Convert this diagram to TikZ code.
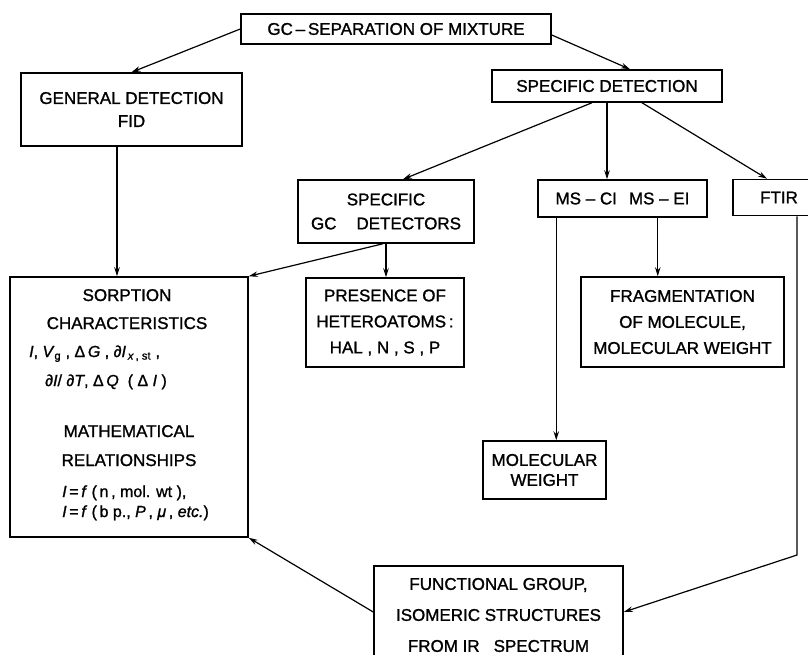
\documentclass[tikz,border=0pt]{standalone}
\usepackage{fontspec}
\setmainfont{Liberation Sans}[FakeBold=1.2]
\usetikzlibrary{arrows.meta}
\tikzset{
  box/.style={draw, line width=1.5pt, inner sep=0pt, align=center},
  conn/.style={line width=1.2pt, -{Stealth[length=9pt,width=5.5pt]}},
  txt/.style={inner sep=0pt, font=\fontsize{17}{20}\selectfont},
  mtxt/.style={inner sep=0pt, font=\fontsize{16}{20}\selectfont},
}
\begin{document}
\begin{tikzpicture}[x=1pt,y=-1pt]
\useasboundingbox (0,0) rectangle (808,654);
\clip (0,0) rectangle (808,654);
\fill[white] (0,0) rectangle (808,654);

% boxes
\node[box, minimum width=310pt, minimum height=30pt, font=\fontsize{17}{23}\selectfont] (gc) at (396,29) {GC\,–\,SEPARATION OF MIXTURE};
\node[box, minimum width=221pt, minimum height=73pt, font=\fontsize{17}{23}\selectfont] (gen) at (131.5,109.5) {GENERAL DETECTION\\FID};
\node[box, minimum width=230pt, minimum height=32pt, font=\fontsize{17}{23}\selectfont] (spec) at (607,86) {SPECIFIC DETECTION};
\node[box, minimum width=176pt, minimum height=63pt, font=\fontsize{17}{24}\selectfont] (sgc) at (386,211.5) {SPECIFIC\\GC\hspace{20pt}DETECTORS};
\node[box, minimum width=169pt, minimum height=37pt, font=\fontsize{17}{23}\selectfont] (ms) at (622.5,198.5) {MS – CI\hspace{12pt}MS – EI};
\node[box, minimum width=92pt, minimum height=36pt, font=\fontsize{17}{23}\selectfont] (ftir) at (779,197.5) {FTIR};
\node[box, minimum width=238pt, minimum height=260pt] (sorp) at (129,407) {};
\node[box, minimum width=158pt, minimum height=89pt, font=\fontsize{17}{26}\selectfont] (pres) at (385,322.5) {PRESENCE OF\\HETEROATOMS\,:\\HAL , N , S , P};
\node[box, minimum width=203pt, minimum height=90pt, font=\fontsize{17}{26}\selectfont] (frag) at (682.5,322) {FRAGMENTATION\\OF MOLECULE,\\MOLECULAR WEIGHT};
\node[box, minimum width=123pt, minimum height=58pt, font=\fontsize{17}{20}\selectfont] (mw) at (544.5,470) {MOLECULAR\\WEIGHT};
\node[box, minimum width=249pt, minimum height=98pt, font=\fontsize{17}{31}\selectfont] (func) at (498.5,615) {FUNCTIONAL GROUP,\\ISOMERIC STRUCTURES\\FROM IR\hspace{14pt}SPECTRUM};

% texts inside the sorption box
\node[txt, anchor=base] (s1) at (127,301) {SORPTION};
\node[txt, anchor=base] (s2) at (127,329) {CHARACTERISTICS};
\node[mtxt, anchor=base west] (s3) at (29,357) {\textit{I}, \textit{V}\textsubscript{g} , Δ\,\textit{G} , ∂\textit{I}\textsubscript{\,\textit{x}\,, st} ,};
\node[mtxt, anchor=base west] (s4) at (45,386) {∂\textit{I}/\ ∂\textit{T},\ Δ\,\textit{Q}\ \ (\ Δ\ \textit{I}\ )};
\node[txt, anchor=base] (s5) at (129,437) {MATHEMATICAL};
\node[txt, anchor=base] (s6) at (129,466) {RELATIONSHIPS};
\node[mtxt, anchor=base west] (s7) at (62,497) {\textit{I}\,=\,\textit{f}\ (\,n\,, mol. wt\ ),};
\node[mtxt, anchor=base west] (s8) at (62,517) {\textit{I}\,=\,\textit{f}\ (\,b p., \textit{P}\,, \textit{μ}\,, \textit{etc.})};

% connectors
\draw[conn] (gc.west) -- (gen.north);
\draw[conn] ([yshift=-6pt]gc.east) -- ([xshift=23pt]spec.north);
\draw[conn] ([xshift=-15pt]spec.south) -- ([xshift=17pt]sgc.north);
\draw[conn] (spec.south) -- (spec.south |- ms.north);
\draw[conn] ([xshift=35pt]spec.south) -- ([xshift=-12pt]ftir.north);
\draw[conn] ([xshift=-14.5pt]gen.south) -- ([xshift=-14.5pt]gen.south |- sorp.north);
\draw[conn] ([xshift=-3pt]sgc.south) -- (sorp.north east);
\draw[conn] (sgc.south) -- (sgc.south |- pres.north);
\draw[conn] ([xshift=19pt]ms.south west) -- ([xshift=19pt]ms.south west |- mw.north);
\draw[conn] ([xshift=-50pt]ms.south east) -- ([xshift=-50pt]ms.south east |- frag.north);
\coordinate (bend) at (797,555);
\draw[conn] ([xshift=18pt]ftir.south) -- (bend) -- ([yshift=3pt]func.east);
\draw[conn] ([yshift=3pt]func.west) -- (sorp.south east);
\end{tikzpicture}
\end{document}
